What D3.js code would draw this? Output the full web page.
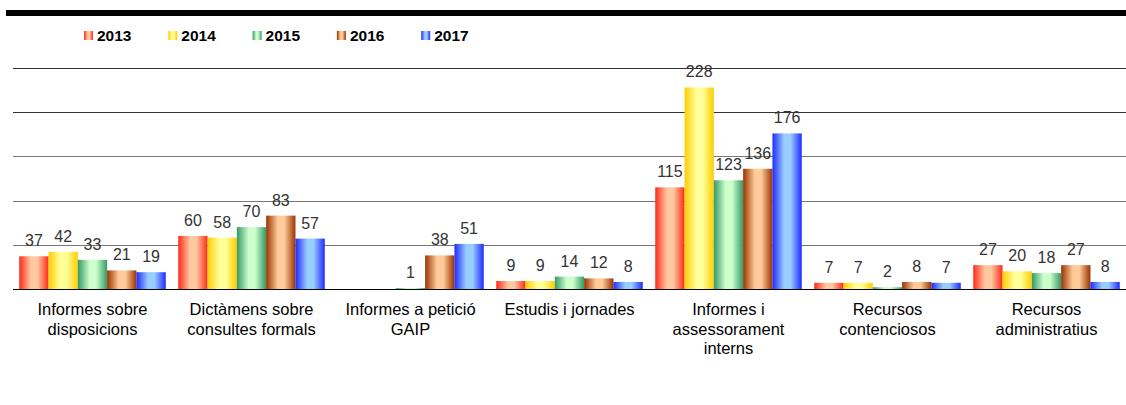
<!DOCTYPE html>
<html><head><meta charset="utf-8">
<script src="https://cdn.jsdelivr.net/npm/d3@7"></script>
<style>body{margin:0;background:#fff}svg{display:block;font-family:"Liberation Sans",Arial,sans-serif}</style>
</head><body>
<svg id="c" width="1126" height="405"></svg>
<script>
const categories = [
  ["Informes sobre","disposicions"],
  ["Dictàmens sobre","consultes formals"],
  ["Informes a petició","GAIP"],
  ["Estudis i jornades"],
  ["Informes i","assessorament","interns"],
  ["Recursos","contenciosos"],
  ["Recursos","administratius"]
];
const years = ["2013","2014","2015","2016","2017"];
const v2013 = [37, 60, null, 9, 115, 7, 27];
const v2014 = [42, 58, null, 9, 228, 7, 20];
const v2015 = [33, 70, 1, 14, 123, 2, 18];
const v2016 = [21, 83, 38, 12, 136, 8, 27];
const v2017 = [19, 57, 51, 8, 176, 7, 8];
const series = [v2013, v2014, v2015, v2016, v2017];
const gridTicks = [0, 50, 100, 150, 200, 250];
const darkColors = ["#ff2a1a", "#ffcc00", "#339966", "#993300", "#1f2bff"];
const lightColors = ["#ffc8a0", "#ffff99", "#ccffcc", "#ffcc99", "#99ccff"];

const svg = d3.select("#c");
const W = 1126, left = 13, right = 1126, base = 289, top250 = 68;

const defs = svg.append("defs");
years.forEach((y, i) => {
  const g = defs.append("linearGradient").attr("id", "g" + i)
    .attr("x1", "0").attr("x2", "1").attr("y1", "0").attr("y2", "0");
  g.append("stop").attr("offset", "0%").attr("stop-color", darkColors[i]);
  g.append("stop").attr("offset", "40%").attr("stop-color", lightColors[i]);
  g.append("stop").attr("offset", "62%").attr("stop-color", lightColors[i]);
  g.append("stop").attr("offset", "100%").attr("stop-color", darkColors[i]);
});

// top black band
svg.append("rect").attr("x", 6).attr("y", 10).attr("width", W - 6).attr("height", 6).attr("fill", "#000");

const y = d3.scaleLinear().domain([0, 250]).range([base, top250]);
const x0 = d3.scaleBand().domain(d3.range(categories.length)).range([left, right]).paddingInner(0).paddingOuter(0);
const x1 = d3.scaleBand().domain(d3.range(years.length)).range([0, x0.bandwidth()]).paddingInner(0).paddingOuter(0.213);

// gridlines
svg.append("g").selectAll("line").data(gridTicks.filter(t => t > 0)).join("line")
  .attr("x1", left).attr("x2", right)
  .attr("y1", d => Math.round(y(d)) + 0.5).attr("y2", d => Math.round(y(d)) + 0.5)
  .attr("stroke", (d) => d >= 200 ? "#333" : "#777").attr("stroke-width", 1);

// bars
const groups = svg.append("g").selectAll("g").data(categories).join("g")
  .attr("transform", (d, i) => `translate(${x0(i)},0)`);
groups.each(function (cat, ci) {
  const g = d3.select(this);
  series.forEach((s, si) => {
    const v = s[ci];
    if (v == null) return;
    g.append("rect").attr("x", x1(si)).attr("width", x1.bandwidth())
      .attr("y", y(v)).attr("height", base - y(v)).attr("fill", `url(#g${si})`);
    g.append("text").attr("x", x1(si) + x1.bandwidth() / 2).attr("y", y(v) - 10)
      .attr("text-anchor", "middle").attr("font-size", 16).attr("fill", "#333").text(v);
  });
  const t = g.append("text").attr("text-anchor", "middle").attr("font-size", 16.5).attr("fill", "#000");
  cat.forEach((line, li) => {
    t.append("tspan").attr("x", x0.bandwidth() / 2).attr("y", 315 + li * 19.5).text(line);
  });
});

// baseline
svg.append("line").attr("x1", left).attr("x2", right).attr("y1", base + 0.5).attr("y2", base + 0.5)
  .attr("stroke", "#000").attr("stroke-width", 1);

// legend
const leg = svg.append("g").selectAll("g").data(years).join("g")
  .attr("transform", (d, i) => `translate(${84 + i * 84.3},31)`);
leg.append("rect").attr("width", 9).attr("height", 9).attr("fill", (d, i) => `url(#g${i})`);
leg.append("text").attr("x", 13).attr("y", 9.8).attr("font-size", 15.5).attr("font-weight", "bold").attr("fill", "#000").text(d => d);
</script>
</body></html>
